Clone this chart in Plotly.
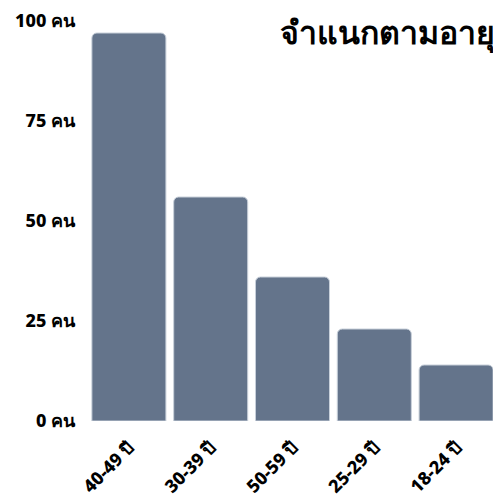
import plotly.graph_objects as go

categories = ["40-49 ปี", "30-39 ปี", "50-59 ปี", "25-29 ปี", "18-24 ปี"]
values = [97, 56, 36, 23, 14]
tick_vals = [0, 25, 50, 75, 100]
tick_text = ["0 คน", "25 คน", "50 คน", "75 คน", "100 คน"]
title_text = "จำแนกตามอายุ"

fig = go.Figure(go.Bar(
    x=categories, y=values,
    marker=dict(color="#64748b", line=dict(color="#c8d0da", width=1)),
    hoverinfo="skip",
))

fig.update_layout(
    width=493, height=495,
    margin=dict(l=80, r=4, t=13, b=82, autoexpand=False),
    paper_bgcolor="white", plot_bgcolor="white",
    bargap=0.095,
    barcornerradius=5,
    showlegend=False,
    font=dict(family="Noto Sans, sans-serif", color="#000000", size=18),
    annotations=[dict(
        text=title_text,
        xref="paper", yref="paper", x=1.0, y=0.973, xanchor="right", yanchor="middle",
        showarrow=False, font=dict(size=32, color="#000000", weight=800),
    )],
)
fig.update_xaxes(
    tickangle=-45, showgrid=False, zeroline=False, showline=False, automargin=False,
    tickfont=dict(size=18, family="Noto Sans, sans-serif", weight=800),
    ticks="", ticklabelstandoff=12,
)
fig.update_yaxes(
    range=[0, 100], tickvals=tick_vals, ticktext=tick_text, automargin=False,
    showgrid=False, zeroline=False, showline=False,
    tickfont=dict(size=18, family="Noto Sans, sans-serif", weight=800),
    ticks="", ticklabelstandoff=12,
)

fig.write_html("out.html")
